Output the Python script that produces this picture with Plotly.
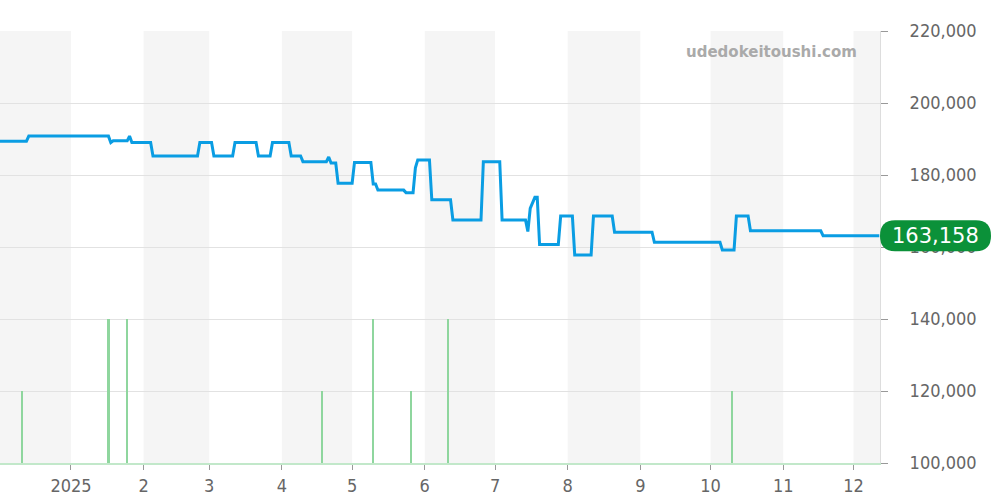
import plotly.graph_objects as go
import pandas as pd

# ---- price series (step changes) ----
price_dates = [
    "2024-11-25", "2024-12-13", "2024-12-14", "2025-01-17", "2025-01-18", "2025-01-19",
    "2025-01-25", "2025-01-26", "2025-01-27", "2025-02-04", "2025-02-05", "2025-02-24",
    "2025-02-25", "2025-03-02", "2025-03-03", "2025-03-11", "2025-03-12", "2025-03-21",
    "2025-03-22", "2025-03-27", "2025-03-28", "2025-04-04", "2025-04-05", "2025-04-09",
    "2025-04-10", "2025-04-20", "2025-04-21", "2025-04-22", "2025-04-24", "2025-04-25",
    "2025-05-01", "2025-05-02", "2025-05-09", "2025-05-10", "2025-05-11", "2025-05-12",
    "2025-05-23", "2025-05-24", "2025-05-27", "2025-05-28", "2025-05-29", "2025-06-03",
    "2025-06-04", "2025-06-12", "2025-06-13", "2025-06-25", "2025-06-26", "2025-07-03",
    "2025-07-04", "2025-07-14", "2025-07-15", "2025-07-16", "2025-07-18", "2025-07-19",
    "2025-07-20", "2025-07-28", "2025-07-29", "2025-08-03", "2025-08-04", "2025-08-11",
    "2025-08-12", "2025-08-20", "2025-08-21", "2025-09-06", "2025-09-07", "2025-10-05",
    "2025-10-06", "2025-10-11", "2025-10-12", "2025-10-17", "2025-10-18", "2025-11-17",
    "2025-11-18", "2025-12-12",
]
price_values = [
    189400, 189400, 190800, 190800, 189000, 189500,
    189500, 190800, 189000, 189000, 185300, 185300,
    189000, 189000, 185300, 185300, 189000, 189000,
    185300, 185300, 189000, 189000, 185300, 185300,
    183700, 183700, 185000, 183300, 183300, 177700,
    177700, 183500, 183500, 177500, 177500, 175800,
    175800, 175100, 175100, 182000, 184200, 184200,
    173100, 173100, 167500, 167500, 183700, 183700,
    167500, 167500, 164300, 170700, 173800, 173800,
    160700, 160700, 168600, 168600, 157800, 157800,
    168600, 168600, 164100, 164100, 161300, 161300,
    159200, 159200, 168600, 168600, 164500, 164500,
    163158, 163158,
]
last_price = 163158

# ---- volume bars ----
volume_dates = ["2024-12-11", "2025-01-17", "2025-01-25", "2025-04-18",
                "2025-05-10", "2025-05-26", "2025-06-11", "2025-10-10"]
volume_values = [1, 2, 2, 1, 2, 1, 2, 1]

# ---- axes ----
x_range = ["2024-12-01 17:00", "2025-12-12 07:00"]
tick_dates = ["2025-01-01", "2025-02-01", "2025-03-01", "2025-04-01", "2025-05-01",
              "2025-06-01", "2025-07-01", "2025-08-01", "2025-09-01", "2025-10-01",
              "2025-11-01", "2025-12-01"]
tick_labels = ["2025", "2", "3", "4", "5", "6", "7", "8", "9", "10", "11", "12"]
shaded_months = [("2024-12-01", "2025-01-01"), ("2025-02-01", "2025-03-01"),
                 ("2025-04-01", "2025-05-01"), ("2025-06-01", "2025-07-01"),
                 ("2025-08-01", "2025-09-01"), ("2025-10-01", "2025-11-01"),
                 ("2025-12-01", "2026-01-01")]
y_ticks = [100000, 120000, 140000, 160000, 180000, 200000, 220000]

LINE = "#0a9de3"
BAR = "#8fd69e"
BADGE = "#0b9139"
TICKFONT = dict(family="DejaVu Sans Condensed, DejaVu Sans", size=18, color="#666666")

fig = go.Figure()
fig.add_trace(go.Bar(
    x=volume_dates, y=volume_values, yaxis="y2",
    marker=dict(color=BAR, line=dict(width=0)),
    width=0.9 * 86400000, hoverinfo="skip", showlegend=False,
))
fig.add_trace(go.Scatter(
    x=price_dates, y=price_values, mode="lines",
    line=dict(color=LINE, width=3), showlegend=False, yaxis="y",
))

shapes = []
for a, b in shaded_months:
    shapes.append(dict(type="rect", xref="x", yref="paper", x0=a, x1=b, y0=0, y1=1,
                       fillcolor="#f5f5f5", line=dict(width=0), layer="below"))
# rounded price badge
shapes.append(dict(
    type="path", xref="paper", yref="y", xsizemode="pixel", ysizemode="pixel",
    xanchor=1, yanchor=last_price,
    path="M 15,-15.5 L 96,-15.5 Q 111,-15.5 111,0 Q 111,15.5 96,15.5 L 15,15.5 "
         "Q 0,15.5 0,0 Q 0,-15.5 15,-15.5 Z",
    fillcolor=BADGE, line=dict(width=0), layer="above",
))

fig.update_layout(
    width=1000, height=500,
    margin=dict(l=0, r=120, t=31, b=37),
    paper_bgcolor="white", plot_bgcolor="white",
    bargap=0,
    xaxis=dict(
        type="date", range=x_range, tickvals=tick_dates, ticktext=tick_labels,
        ticks="outside", ticklen=5, tickcolor="#999999", tickfont=TICKFONT,
        showgrid=False, showline=True, linecolor="#c2e8ca", linewidth=2,
        zeroline=False,
    ),
    yaxis=dict(
        side="right", range=[100000, 220000], tickvals=y_ticks,
        tickformat=",", ticks="outside", ticklen=7, tickcolor="#999999",
        tickfont=TICKFONT, ticklabelstandoff=18,
        showgrid=True, gridcolor="#e2e2e2", gridwidth=1,
        showline=True, linecolor="#dddddd", zeroline=False,
    ),
    yaxis2=dict(overlaying="y", range=[0, 6], visible=False, showgrid=False),
    shapes=shapes,
    annotations=[
        dict(text="udedokeitoushi.com", xref="paper", yref="paper", x=0.877, y=0.951,
             showarrow=False, xanchor="center", yanchor="middle",
             font=dict(family="DejaVu Sans", size=15, color="#aaaaaa", weight="bold")),
        dict(text=f"{last_price:,}", xref="paper", yref="y", x=1, y=last_price,
             xshift=55, showarrow=False, xanchor="center", yanchor="middle",
             font=dict(family="DejaVu Sans", size=21, color="white")),
    ],
)

fig.write_html("out.html",
               config={"displayModeBar": False},
               post_script="document.body.style.margin='0';document.body.style.overflow='hidden';")
